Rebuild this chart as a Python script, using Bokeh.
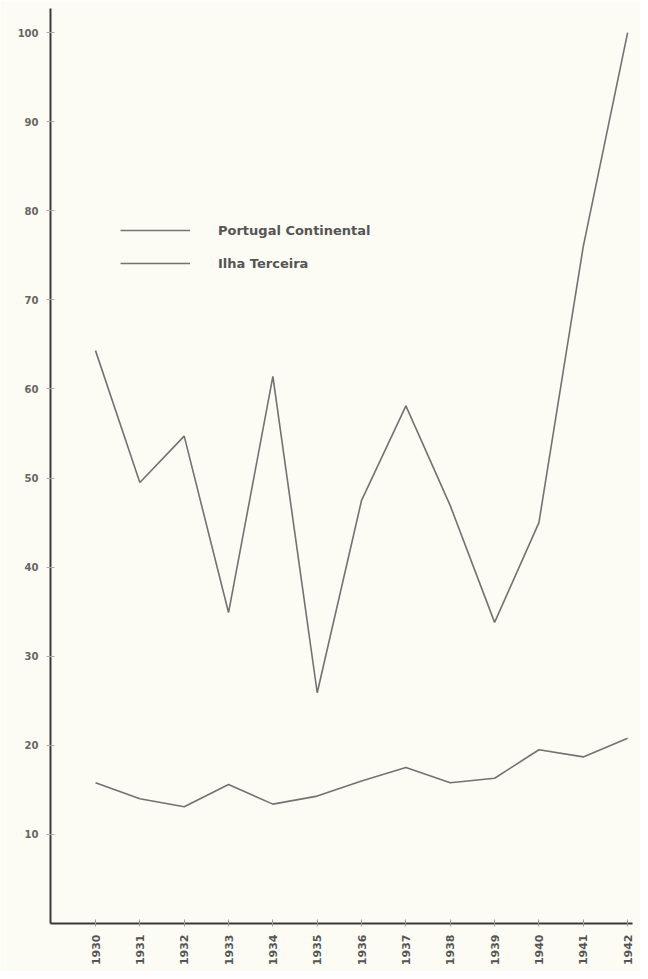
from bokeh.plotting import figure
from bokeh.models import FixedTicker, Range1d, Legend, LegendItem
from bokeh.embed import file_html
from bokeh.resources import INLINE
import math

years = [1930, 1931, 1932, 1933, 1934, 1935, 1936, 1937, 1938, 1939, 1940, 1941, 1942]
portugal_continental = [15.8, 14.0, 13.1, 15.6, 13.4, 14.3, 16.0, 17.5, 15.8, 16.3, 19.5, 18.7, 20.8]
ilha_terceira = [64.3, 49.5, 54.7, 34.9, 61.4, 25.9, 47.5, 58.1, 46.9, 33.8, 45.0, 76.0, 100.0]
y_ticks = [10, 20, 30, 40, 50, 60, 70, 80, 90, 100]
series_names = ["Portugal Continental", "Ilha Terceira"]

bg = "#fcfbf4"
ink = "#727272"

p = figure(width=640, height=971, output_backend="svg", toolbar_location=None,
           x_range=Range1d(1928.985, 1942.11), y_range=Range1d(0, 102.7))
p.min_border_left = 50
p.min_border_right = 8
p.min_border_top = 8
p.min_border_bottom = 48
p.background_fill_color = bg
p.border_fill_color = bg
p.outline_line_color = None
p.xgrid.visible = False
p.ygrid.visible = False

r1 = p.line(years, portugal_continental, line_color=ink, line_width=1.6)
r2 = p.line(years, ilha_terceira, line_color=ink, line_width=1.6)

font = "DejaVu Sans"
p.xaxis.ticker = FixedTicker(ticks=years)
p.xaxis.major_label_orientation = math.pi / 2
p.xaxis.major_label_text_font = font
p.xaxis.major_label_text_font_style = "bold"
p.xaxis.major_label_text_font_size = "11px"
p.xaxis.major_label_text_color = "#555555"
p.xaxis.major_label_standoff = 8
p.xaxis.axis_line_color = "#3a3a3a"
p.xaxis.axis_line_width = 2
p.xaxis.major_tick_in = 4
p.xaxis.major_tick_out = 3
p.xaxis.major_tick_line_color = "#999999"
p.xaxis.minor_tick_line_color = None

p.yaxis.ticker = FixedTicker(ticks=y_ticks)
p.yaxis.major_label_text_font = font
p.yaxis.major_label_text_font_style = "bold"
p.yaxis.major_label_text_font_size = "10px"
p.yaxis.major_label_text_color = "#666666"
p.yaxis.major_label_standoff = 8
p.yaxis.axis_line_color = "#3a3a3a"
p.yaxis.axis_line_width = 2
p.yaxis.major_tick_in = 4
p.yaxis.major_tick_out = 4
p.yaxis.major_tick_line_color = "#aaaaaa"
p.yaxis.minor_tick_line_color = None

legend = Legend(items=[LegendItem(label=series_names[0], renderers=[r1]),
                       LegendItem(label=series_names[1], renderers=[r2])],
                location=(70, 650))
legend.glyph_width = 70
legend.glyph_height = 20
legend.label_height = 20
legend.spacing = 13
legend.label_standoff = 28
legend.padding = 0
legend.margin = 0
legend.border_line_color = None
legend.background_fill_alpha = 0
legend.label_text_font = font
legend.label_text_font_style = "bold"
legend.label_text_font_size = "13px"
legend.label_text_color = "#555555"
p.add_layout(legend)

open("out.html", "w").write(file_html(p, INLINE))
